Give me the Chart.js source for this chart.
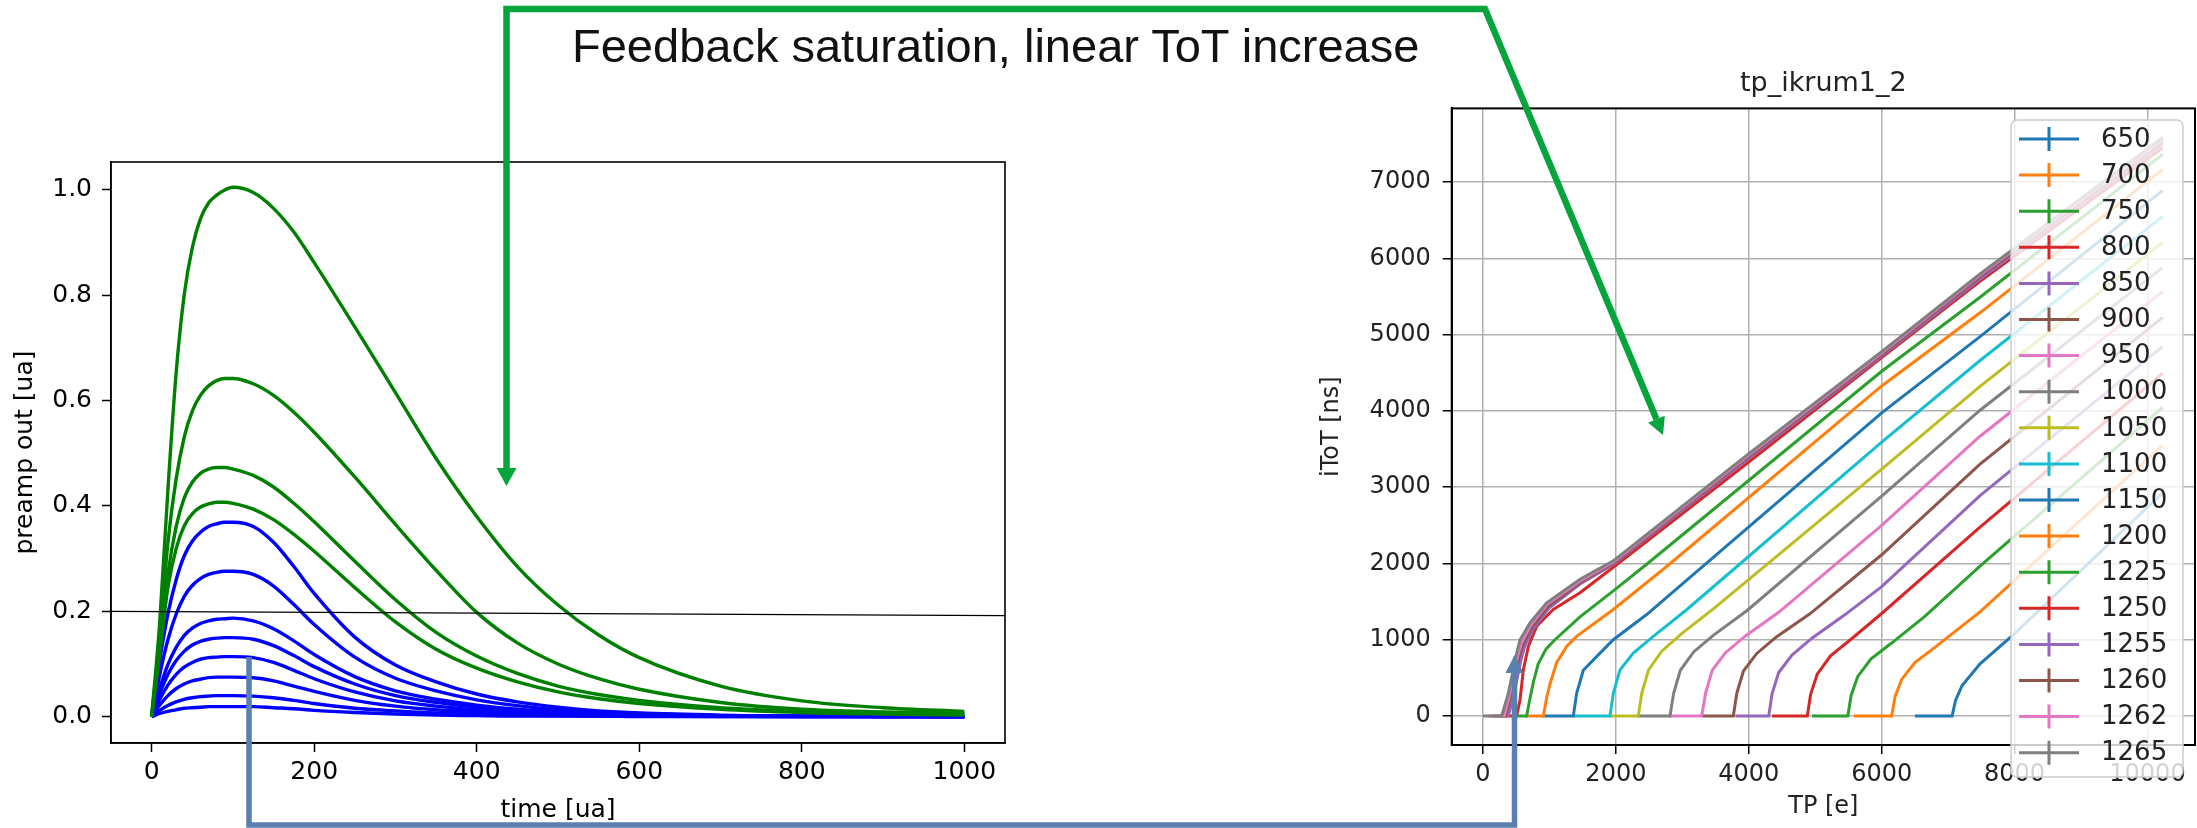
<!DOCTYPE html>
<html>
<head>
<meta charset="utf-8">
<script src="https://cdn.jsdelivr.net/npm/chart.js@4.4.1/dist/chart.umd.min.js"></script>
<style>
  html, body { margin: 0; padding: 0; background: #fff; }
  #page { position: relative; width: 2197px; height: 828px; overflow: hidden; }
  #preampChart { position: absolute; left: 0; top: 0; }
  #totChart { position: absolute; left: 1280px; top: 0; }
  #note { position: absolute; left: 572px; top: 22px; font: 47px/1 "Liberation Sans", Arial, sans-serif; color: #111; white-space: nowrap; }
  #arrows { position: absolute; left: 0; top: 0; }
</style>
</head>
<body>
<div id="page">
  <canvas id="preampChart" width="1040" height="828"></canvas>
  <canvas id="totChart" width="917" height="828"></canvas>
  <div id="note">Feedback saturation, linear ToT increase</div>
  <svg id="arrows" width="2197" height="828">
    <polyline points="506.5,470 506.5,9 1485,9 1656.5,419.3" fill="none" stroke="#05a43c" stroke-width="6.5" />
    <polygon points="496.5,468 516.5,468 506.5,486" fill="#05a43c" />
    <polygon points="1648.1,422.8 1664.8,415.8 1663,435" fill="#05a43c" />
    <polyline points="249,657 249,825 1514.5,825 1514.5,672" fill="none" stroke="#5a7fb0" stroke-width="5.5" />
    <polygon points="1505.5,673 1523.5,673 1514.5,655" fill="#5a7fb0" />
  </svg>
</div>
<script>
Chart.defaults.font.family = 'DejaVu Sans';
Chart.defaults.animation = false;

// ---- left plot: preamp output vs time ----
const timeSteps = [0, 10, 20, 30, 40, 50, 60, 70, 80, 90, 100, 125, 150, 175, 200, 250, 300, 350, 400, 450, 500, 550, 600, 700, 800, 900, 1000];
const green100 = [0, 0.18, 0.43, 0.65, 0.80, 0.89, 0.945, 0.975, 0.99, 1.0, 1.005, 0.995, 0.965, 0.92, 0.862, 0.74, 0.615, 0.49, 0.38, 0.285, 0.212, 0.155, 0.112, 0.058, 0.03, 0.017, 0.01];
const green64 = [0, 0.15, 0.33, 0.45, 0.53, 0.58, 0.61, 0.628, 0.638, 0.642, 0.642, 0.632, 0.61, 0.578, 0.54, 0.455, 0.365, 0.278, 0.198, 0.14, 0.1, 0.072, 0.052, 0.027, 0.014, 0.009, 0.006];
const green47 = [0, 0.13, 0.27, 0.36, 0.415, 0.445, 0.462, 0.47, 0.473, 0.473, 0.47, 0.458, 0.436, 0.405, 0.37, 0.295, 0.222, 0.16, 0.115, 0.082, 0.058, 0.042, 0.031, 0.017, 0.01, 0.006, 0.004];
const green40 = [0, 0.12, 0.245, 0.318, 0.362, 0.385, 0.398, 0.404, 0.407, 0.407, 0.405, 0.394, 0.374, 0.346, 0.314, 0.245, 0.18, 0.128, 0.092, 0.066, 0.047, 0.034, 0.025, 0.014, 0.008, 0.005, 0.003];
const blue37 = [0, 0.107, 0.195, 0.259, 0.305, 0.333, 0.35, 0.361, 0.366, 0.369, 0.369, 0.361, 0.331, 0.285, 0.234, 0.151, 0.098, 0.066, 0.043, 0.028, 0.018, 0.011, 0.007, 0.003, 0.001, 0.001, 0];
const blue28 = [0, 0.08, 0.146, 0.194, 0.228, 0.249, 0.262, 0.27, 0.274, 0.276, 0.276, 0.27, 0.248, 0.213, 0.175, 0.113, 0.073, 0.049, 0.032, 0.021, 0.013, 0.009, 0.006, 0.002, 0.001, 0.001, 0];
const blue19 = [0, 0.054, 0.099, 0.131, 0.154, 0.168, 0.177, 0.182, 0.185, 0.186, 0.187, 0.182, 0.167, 0.144, 0.118, 0.076, 0.049, 0.033, 0.022, 0.014, 0.009, 0.006, 0.004, 0.002, 0.001, 0, 0];
const blue15 = [0, 0.044, 0.08, 0.106, 0.124, 0.136, 0.143, 0.147, 0.149, 0.15, 0.15, 0.147, 0.135, 0.116, 0.095, 0.062, 0.04, 0.027, 0.018, 0.011, 0.007, 0.005, 0.003, 0.001, 0.001, 0, 0];
const blue11 = [0, 0.033, 0.06, 0.08, 0.094, 0.103, 0.109, 0.112, 0.113, 0.114, 0.114, 0.112, 0.103, 0.088, 0.072, 0.047, 0.03, 0.02, 0.013, 0.009, 0.005, 0.004, 0.002, 0.001, 0, 0, 0];
const blue08 = [0, 0.022, 0.04, 0.053, 0.062, 0.068, 0.071, 0.074, 0.075, 0.075, 0.075, 0.074, 0.068, 0.058, 0.048, 0.031, 0.02, 0.013, 0.009, 0.006, 0.004, 0.002, 0.002, 0.001, 0, 0, 0];
const blue04 = [0, 0.012, 0.021, 0.028, 0.033, 0.036, 0.038, 0.039, 0.04, 0.04, 0.04, 0.039, 0.036, 0.031, 0.025, 0.016, 0.011, 0.007, 0.005, 0.003, 0.002, 0.001, 0.001, 0, 0, 0, 0];
const blue02 = [0, 0.006, 0.01, 0.013, 0.016, 0.017, 0.018, 0.019, 0.019, 0.019, 0.019, 0.019, 0.017, 0.015, 0.012, 0.008, 0.005, 0.003, 0.002, 0.001, 0.001, 0.001, 0, 0, 0, 0, 0];
const preampCurves = [green100, green64, green47, green40, blue37, blue28, blue19, blue15, blue11, blue08, blue04, blue02];
const preampColors = ['#008000', '#008000', '#008000', '#008000', '#0000ff', '#0000ff', '#0000ff', '#0000ff', '#0000ff', '#0000ff', '#0000ff', '#0000ff'];
const thresholdX = [-50, 1050];
const thresholdY = [0.2, 0.192];
const timeTicks = [0, 200, 400, 600, 800, 1000];
const preampTicks = [0, 0.2, 0.4, 0.6, 0.8, 1.0];

// ---- right plot: iToT vs test pulse charge, one scan per ikrum ----
const ikrumLabels = ['650', '700', '750', '800', '850', '900', '950', '1000', '1050', '1100', '1150', '1200', '1225', '1250', '1255', '1260', '1262', '1265'];
const tot650 = [[6500, 0], [7060, 0], [7110, 200], [7210, 400], [7480, 685], [8000, 1080], [10230, 2929]];
const tot700 = [[5580, 0], [6150, 0], [6200, 250], [6300, 480], [6500, 700], [6800, 900], [7480, 1366], [10230, 3550]];
const tot750 = [[4950, 0], [5490, 0], [5540, 270], [5640, 520], [5840, 750], [6140, 950], [6640, 1300], [7480, 1965], [10230, 4048]];
const tot800 = [[4350, 0], [4880, 0], [4930, 280], [5030, 550], [5230, 790], [5530, 1000], [6000, 1344], [7480, 2476], [10230, 4494]];
const tot850 = [[3800, 0], [4300, 0], [4350, 290], [4450, 570], [4650, 800], [4950, 1020], [5450, 1330], [6000, 1697], [7480, 2889], [10230, 4847]];
const tot900 = [[3300, 0], [3767, 0], [3820, 300], [3920, 590], [4120, 820], [4420, 1040], [4920, 1340], [6000, 2114], [7480, 3302], [10230, 5227]];
const tot950 = [[2800, 0], [3290, 0], [3350, 300], [3450, 600], [3650, 830], [3950, 1050], [4450, 1360], [6000, 2499], [7480, 3668], [10230, 5568]];
const tot1000 = [[2330, 0], [2814, 0], [2870, 300], [2970, 600], [3170, 840], [3470, 1060], [3970, 1380], [6000, 2884], [7480, 4009], [10230, 5882]];
const tot1050 = [[1900, 0], [2337, 0], [2390, 300], [2490, 600], [2690, 850], [2990, 1080], [3490, 1420], [6000, 3237], [7480, 4321], [10230, 6210]];
const tot1100 = [[1360, 0], [1911, 0], [1961, 296], [2061, 604], [2262, 824], [2563, 1044], [3060, 1390], [6000, 3590], [7480, 4661], [10230, 6550]];
const tot1150 = [[900, 0], [1359, 0], [1410, 300], [1510, 600], [1761, 824], [1961, 1000], [2463, 1330], [4000, 2480], [6000, 3975], [7480, 4974], [10230, 6891]];
const tot1200 = [[650, 0], [908, 0], [960, 250], [1008, 420], [1108, 700], [1259, 912], [1409, 1044], [1961, 1397], [2764, 1960], [6000, 4327], [7480, 5286], [10230, 7166]];
const tot1225 = [[500, 0], [657, 0], [700, 200], [760, 450], [830, 680], [950, 880], [1083, 1000], [1460, 1300], [1961, 1640], [2463, 1990], [6000, 4520], [7480, 5490], [10230, 7363]];
const tot1250 = [[300, 0], [506, 0], [557, 208], [607, 604], [682, 912], [808, 1176], [1058, 1397], [1460, 1617], [1961, 1950], [4000, 3330], [6000, 4700], [7480, 5700], [10230, 7450]];
const tot1255 = [[250, 0], [380, 0], [460, 260], [570, 730], [630, 920], [760, 1150], [1000, 1420], [1460, 1730], [1961, 1990], [4000, 3380], [6000, 4720], [7480, 5730], [10230, 7495]];
const tot1260 = [[150, 0], [340, 0], [420, 270], [540, 760], [600, 940], [740, 1170], [980, 1440], [1460, 1750], [1961, 2005], [4000, 3400], [6000, 4740], [7480, 5760], [10230, 7525]];
const tot1262 = [[80, 0], [320, 0], [400, 280], [520, 780], [580, 960], [720, 1190], [960, 1460], [1460, 1770], [1961, 2020], [4000, 3420], [6000, 4760], [7480, 5780], [10230, 7555]];
const tot1265 = [[0, 0], [281, 0], [381, 296], [507, 824], [557, 1000], [707, 1220], [958, 1484], [1460, 1793], [1961, 2034], [4000, 3440], [6000, 4777], [7480, 5797], [10230, 7585]];
const totSeries = [tot650, tot700, tot750, tot800, tot850, tot900, tot950, tot1000, tot1050, tot1100, tot1150, tot1200, tot1225, tot1250, tot1255, tot1260, tot1262, tot1265];
const tab10 = ['#1f77b4', '#ff7f0e', '#2ca02c', '#d62728', '#9467bd', '#8c564b', '#e377c2', '#7f7f7f', '#bcbd22', '#17becf'];
const chargeTicks = [0, 2000, 4000, 6000, 8000, 10000];
const totTicks = [0, 1000, 2000, 3000, 4000, 5000, 6000, 7000];

// frame round the plot area, like matplotlib spines
function framePlugin(width) {
    return {
        id: 'frame',
        afterDatasetsDraw(chart) {
            const a = chart.chartArea, ctx = chart.ctx;
            ctx.save();
            ctx.strokeStyle = '#000';
            ctx.lineWidth = width;
            ctx.strokeRect(a.left, a.top, a.right - a.left, a.bottom - a.top);
            ctx.restore();
        }
    };
}

// matplotlib style legend inside the plot (errorbar handles)
const legendBox = {
    id: 'legendBox',
    afterDraw(chart) {
        const ctx = chart.ctx;
        const x0 = 731, y0 = 120, w = 172, h = 657;
        ctx.save();
        ctx.fillStyle = 'rgba(255,255,255,0.8)';
        ctx.strokeStyle = '#cccccc';
        ctx.lineWidth = 1.5;
        ctx.beginPath();
        ctx.roundRect(x0, y0, w, h, 6);
        ctx.fill();
        ctx.stroke();
        ctx.font = '26px "DejaVu Sans"';
        ctx.textBaseline = 'middle';
        ctx.fillStyle = '#222';
        chart.data.datasets.forEach((ds, i) => {
            const y = 139 + i * 36.1;
            ctx.strokeStyle = ds.borderColor;
            ctx.lineWidth = 3;
            ctx.beginPath();
            ctx.moveTo(739, y);
            ctx.lineTo(799, y);
            ctx.moveTo(769, y - 12);
            ctx.lineTo(769, y + 12);
            ctx.stroke();
            ctx.fillText(ds.label, 821, y + 1);
        });
        ctx.restore();
    }
};

const axisFont = { family: 'DejaVu Sans', size: 25 };

new Chart(document.getElementById('preampChart'), {
    type: 'line',
    data: {
        datasets: [{
            label: 'threshold',
            data: thresholdX.map((x, i) => ({ x: x, y: thresholdY[i] })),
            borderColor: '#000',
            borderWidth: 1.2,
            pointRadius: 0
        }].concat(preampCurves.map((curve, i) => ({
            label: 'curve ' + i,
            data: curve.map((v, j) => ({ x: timeSteps[j], y: v })),
            borderColor: preampColors[i],
            borderWidth: 3.4,
            pointRadius: 0,
            cubicInterpolationMode: 'monotone'
        })))
    },
    options: {
        responsive: false,
        layout: { padding: { top: 162, right: 35, left: 0, bottom: 0 } },
        plugins: { legend: { display: false }, tooltip: { enabled: false } },
        scales: {
            x: {
                type: 'linear', min: -50, max: 1050,
                afterBuildTicks: s => { s.ticks = timeTicks.map(v => ({ value: v })); },
                afterFit: s => { s.height = 85; },
                grid: { drawOnChartArea: false, tickLength: 9, tickColor: '#000', tickWidth: 1.5 },
                border: { color: '#000', width: 1.5 },
                ticks: { color: '#000', font: axisFont, padding: 5, maxRotation: 0, autoSkip: false, callback: v => String(v) },
                title: { display: true, text: 'time [ua]', color: '#000', font: axisFont, padding: { top: 0, bottom: 3 } }
            },
            y: {
                type: 'linear', min: -0.05, max: 1.053,
                afterBuildTicks: s => { s.ticks = preampTicks.map(v => ({ value: v })); },
                afterFit: s => { s.width = 111; },
                grid: { drawOnChartArea: false, tickLength: 9, tickColor: '#000', tickWidth: 1.5 },
                border: { color: '#000', width: 1.5 },
                ticks: { color: '#000', font: axisFont, padding: 10, autoSkip: false, callback: v => v.toFixed(1) },
                title: { display: true, text: 'preamp out [ua]', color: '#000', font: axisFont, padding: { top: 10, bottom: 0 } }
            }
        }
    },
    plugins: [framePlugin(1.6)]
});

const totFont = { family: 'DejaVu Sans', size: 24 };

new Chart(document.getElementById('totChart'), {
    type: 'line',
    data: {
        datasets: totSeries.map((pts, i) => ({
            label: ikrumLabels[i],
            data: pts.map(p => ({ x: p[0], y: p[1] })),
            borderColor: tab10[i % 10],
            borderWidth: 3,
            pointRadius: 0,
            order: totSeries.length - i
        }))
    },
    options: {
        responsive: false,
        layout: { padding: { top: 0, right: 2, left: 0, bottom: 0 } },
        plugins: {
            legend: { display: false },
            tooltip: { enabled: false },
            title: {
                display: true, text: 'tp_ikrum1_2', fullSize: false, color: '#222',
                font: { family: 'DejaVu Sans', size: 27, weight: 'normal' },
                padding: { top: 68, bottom: 8 }
            }
        },
        scales: {
            x: {
                type: 'linear', min: -471, max: 10715,
                afterBuildTicks: s => { s.ticks = chargeTicks.map(v => ({ value: v })); },
                afterFit: s => { s.height = 83; },
                grid: { color: '#b0b0b0', lineWidth: 1.5, tickLength: 9, tickColor: '#000', tickWidth: 1.5 },
                border: { color: '#000', width: 2 },
                ticks: { color: '#222', font: totFont, padding: 6, maxRotation: 0, autoSkip: false, callback: v => String(v) },
                title: { display: true, text: 'TP [e]', color: '#222', font: totFont, padding: { top: 0, bottom: 7 } }
            },
            y: {
                type: 'linear', min: -380, max: 7966,
                afterBuildTicks: s => { s.ticks = totTicks.map(v => ({ value: v })); },
                afterFit: s => { s.width = 171.7; },
                grid: { color: '#b0b0b0', lineWidth: 1.5, tickLength: 9, tickColor: '#000', tickWidth: 1.5 },
                border: { color: '#000', width: 2 },
                ticks: { color: '#222', font: totFont, padding: 12, autoSkip: false, callback: v => String(v) },
                title: { display: true, text: 'iToT [ns]', color: '#222', font: totFont, padding: { top: 37, bottom: 0 } }
            }
        }
    },
    plugins: [framePlugin(2), legendBox]
});
</script>
</body>
</html>
